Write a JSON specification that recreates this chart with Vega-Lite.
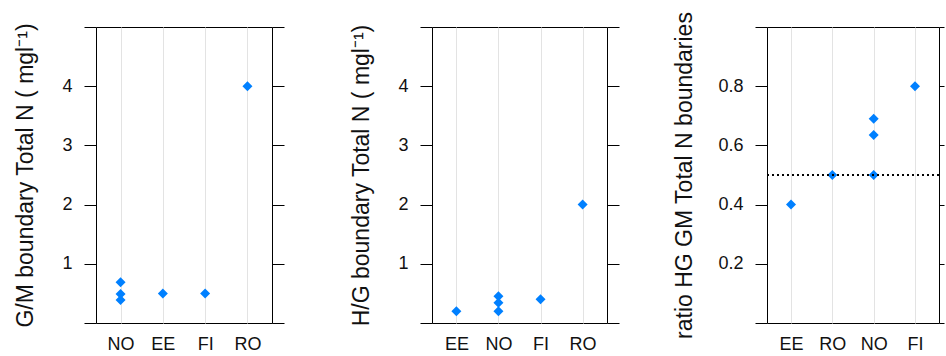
{
  "$schema": "https://vega.github.io/schema/vega-lite/v6.json",
  "background": "white",
  "padding": {"left": 14, "top": 10, "right": 0, "bottom": 0},
  "spacing": 160,
  "bounds": "flush",
  "config": {
    "font": "Liberation Sans",
    "view": {"stroke": "black", "strokeWidth": 1},
    "axis": {
      "labelFont": "Liberation Sans",
      "titleFont": "Liberation Sans",
      "labelColor": "#111111",
      "titleColor": "#111111",
      "labelFontSize": 18,
      "titleFontSize": 23,
      "titleFontWeight": "normal",
      "tickColor": "black",
      "tickWidth": 1,
      "domain": false
    }
  },
  "datasets": {
    "gm": [
      {"country": "NO", "value": 0.69},
      {"country": "NO", "value": 0.49},
      {"country": "NO", "value": 0.39},
      {"country": "EE", "value": 0.5},
      {"country": "FI", "value": 0.5},
      {"country": "RO", "value": 4.0}
    ],
    "hg": [
      {"country": "EE", "value": 0.2},
      {"country": "NO", "value": 0.45},
      {"country": "NO", "value": 0.34},
      {"country": "NO", "value": 0.2},
      {"country": "FI", "value": 0.4},
      {"country": "RO", "value": 2.0}
    ],
    "ratio": [
      {"country": "EE", "value": 0.4},
      {"country": "RO", "value": 0.5},
      {"country": "NO", "value": 0.69},
      {"country": "NO", "value": 0.635},
      {"country": "NO", "value": 0.5},
      {"country": "FI", "value": 0.8}
    ]
  },
  "hconcat": [
    {
      "width": 176,
      "height": 296,
      "data": {"name": "gm"},
      "layer": [
        {
          "mark": {"type": "point", "shape": "diamond", "filled": true, "opacity": 1, "size": 100, "color": "#0080ff"},
          "encoding": {
            "x": {"field": "country", "type": "nominal", "sort": ["NO", "EE", "FI", "RO"],
              "scale": {"type": "point", "padding": 0.58, "domain": ["NO", "EE", "FI", "RO"]},
              "axis": {"title": null, "labelAngle": 0, "ticks": false, "labelPadding": 12, "grid": true, "gridColor": "#e3e3e3", "gridWidth": 1}},
            "y": {"field": "value", "type": "quantitative",
              "scale": {"domain": [0, 5], "nice": false, "zero": false},
              "axis": {"orient": "left", "title": "G/M boundary Total N ( mgl⁻¹)", "values": [0, 1, 2, 3, 4, 5], "labelExpr": "datum.value == 0 || datum.value == 5 ? '' : datum.label", "tickSize": 12, "labelPadding": 12, "titlePadding": 24, "grid": false}}
          }
        },
        {
          "mark": {"type": "rule", "opacity": 0},
          "encoding": {
            "y": {"datum": 0, "type": "quantitative",
              "scale": {"domain": [0, 5], "nice": false, "zero": false},
              "axis": {"orient": "right", "title": null, "labels": false, "values": [0, 1, 2, 3, 4, 5], "tickSize": 12, "grid": false}}
          }
        }
      ]
    },
    {
      "width": 175,
      "height": 296,
      "data": {"name": "hg"},
      "layer": [
        {
          "mark": {"type": "point", "shape": "diamond", "filled": true, "opacity": 1, "size": 100, "color": "#0080ff"},
          "encoding": {
            "x": {"field": "country", "type": "nominal", "sort": ["EE", "NO", "FI", "RO"],
              "scale": {"type": "point", "padding": 0.58, "domain": ["EE", "NO", "FI", "RO"]},
              "axis": {"title": null, "labelAngle": 0, "ticks": false, "labelPadding": 12, "grid": true, "gridColor": "#e3e3e3", "gridWidth": 1}},
            "y": {"field": "value", "type": "quantitative",
              "scale": {"domain": [0, 5], "nice": false, "zero": false},
              "axis": {"orient": "left", "title": "H/G boundary Total N ( mgl⁻¹)", "values": [0, 1, 2, 3, 4, 5], "labelExpr": "datum.value == 0 || datum.value == 5 ? '' : datum.label", "tickSize": 12, "labelPadding": 12, "titlePadding": 24, "grid": false}}
          }
        },
        {
          "mark": {"type": "rule", "opacity": 0},
          "encoding": {
            "y": {"datum": 0, "type": "quantitative",
              "scale": {"domain": [0, 5], "nice": false, "zero": false},
              "axis": {"orient": "right", "title": null, "labels": false, "values": [0, 1, 2, 3, 4, 5], "tickSize": 12, "grid": false}}
          }
        }
      ]
    },
    {
      "width": 172,
      "height": 296,
      "data": {"name": "ratio"},
      "layer": [
        {
          "mark": {"type": "point", "shape": "diamond", "filled": true, "opacity": 1, "size": 100, "color": "#0080ff"},
          "encoding": {
            "x": {"field": "country", "type": "nominal", "sort": ["EE", "RO", "NO", "FI"],
              "scale": {"type": "point", "padding": 0.58, "domain": ["EE", "RO", "NO", "FI"]},
              "axis": {"title": null, "labelAngle": 0, "ticks": false, "labelPadding": 12, "grid": true, "gridColor": "#e3e3e3", "gridWidth": 1}},
            "y": {"field": "value", "type": "quantitative",
              "scale": {"domain": [0, 1], "nice": false, "zero": false},
              "axis": {"orient": "left", "title": "ratio HG GM Total N boundaries", "values": [0, 0.2, 0.4, 0.6, 0.8, 1], "format": ".1f", "labelExpr": "datum.value == 0 || datum.value == 1 ? '' : datum.label", "tickSize": 12, "labelPadding": 12, "titlePadding": 21, "grid": false}}
          }
        },
        {
          "mark": {"type": "rule", "color": "black", "strokeWidth": 1.2, "strokeDash": [2, 3]},
          "encoding": {
            "y": {"datum": 0.5, "type": "quantitative",
              "scale": {"domain": [0, 1], "nice": false, "zero": false},
              "axis": {"orient": "right", "title": null, "labels": false, "values": [0, 0.2, 0.4, 0.6, 0.8, 1], "tickSize": 5, "grid": false}}
          }
        }
      ]
    }
  ]
}
